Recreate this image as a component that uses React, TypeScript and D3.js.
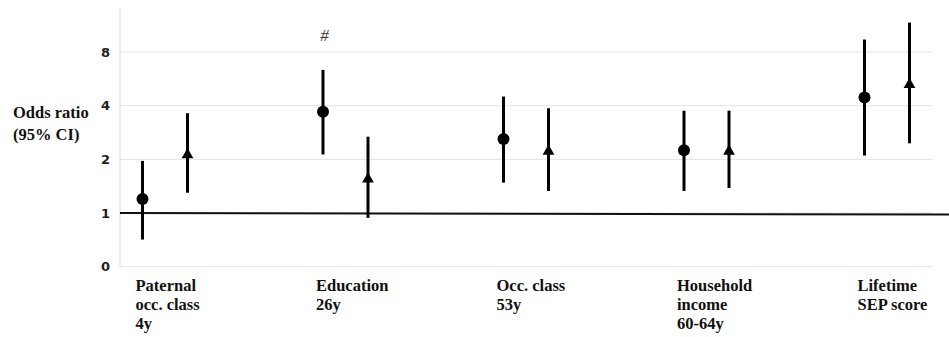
import React from 'react';
import * as d3 from 'd3';

// exposure categories (label lines)
const categories = ['paternal', 'education', 'occ', 'income', 'lifetime'];
const categoryLabels = [
  ['Paternal', 'occ. class', '4y'],
  ['Education', '26y'],
  ['Occ. class', '53y'],
  ['Household', 'income', '60-64y'],
  ['Lifetime', 'SEP score'],
];

// series 1 (circles)
const circleOR = [1.2, 3.7, 2.6, 2.25, 4.45];
const circleLo = [0.71, 2.13, 1.48, 1.33, 2.1];
const circleHi = [1.96, 6.35, 4.5, 3.75, 9.4];

// series 2 (triangles)
const triOR = [2.12, 1.55, 2.22, 2.22, 5.25];
const triLo = [1.3, 0.94, 1.33, 1.38, 2.46];
const triHi = [3.63, 2.68, 3.87, 3.75, 11.7];

const yTicks = [0.5, 1, 2, 4, 8];
const yTickLabels = ['0', '1', '2', '4', '8'];
const significant = ['education'];

const W = 949;
const H = 337;

export default function App() {
  const xScale = d3.scalePoint<string>().domain(categories).range([165, 887]);
  const yScale = d3.scaleLog().base(2).domain([0.5, 8]).range([266.7, 52]);
  const axisLeft = 120;
  const gridRight = 932;
  const offset = 22.5;

  const tri = d3.symbol().type(d3.symbolTriangle).size(60);

  const serif = "'Liberation Serif', 'Times New Roman', serif";

  return (
    <svg width={W} height={H} style={{ position: 'absolute', left: 0, top: 0, background: '#fff' }}>
      {/* gridlines */}
      {yTicks.map(t => (
        <line key={t} x1={axisLeft} x2={gridRight} y1={yScale(t)} y2={yScale(t)} stroke="#e3e3e3" strokeWidth={1} />
      ))}
      <line x1={axisLeft} x2={axisLeft} y1={8} y2={yScale(0.5)} stroke="#d9d9d9" strokeWidth={1} />
      {yTicks.map((t, i) => (
        <text
          key={'l' + t}
          x={110}
          y={yScale(t) + 4.5}
          textAnchor="end"
          fontFamily="'DejaVu Sans', Verdana, sans-serif"
          fontWeight="bold"
          fontSize={13}
          fill="#222"
        >
          {yTickLabels[i]}
        </text>
      ))}
      {/* reference line at OR = 1 */}
      <line x1={axisLeft} x2={W} y1={yScale(1)} y2={yScale(1) + 1.5} stroke="#111" strokeWidth={2} />

      {/* y axis title */}
      <text fontFamily={serif} fontWeight="bold" fontSize={16.5} fill="#111">
        <tspan x={13} y={118}>Odds ratio</tspan>
        <tspan x={13} y={140}>(95% CI)</tspan>
      </text>

      {categories.map((c, i) => {
        const cx = (xScale(c) as number) - offset;
        const tx = (xScale(c) as number) + offset;
        return (
          <g key={c}>
            <line x1={cx} x2={cx} y1={yScale(circleLo[i])} y2={yScale(circleHi[i])} stroke="#000" strokeWidth={3} />
            <circle cx={cx} cy={yScale(circleOR[i])} r={6} fill="#000" />
            <line x1={tx} x2={tx} y1={yScale(triLo[i])} y2={yScale(triHi[i])} stroke="#000" strokeWidth={3} />
            <path d={tri() as string} transform={`translate(${tx},${yScale(triOR[i])})`} fill="#000" />
            {significant.includes(c) && (
              <text x={cx + 1.5} y={41} textAnchor="middle" fontFamily={serif} fontStyle="italic" fontSize={17} fill="#333">
                #
              </text>
            )}
            <text fontFamily={serif} fontWeight="bold" fontSize={16.5} fill="#111">
              {categoryLabels[i].map((line, j) => (
                <tspan key={j} x={cx - 7} y={291 + j * 19}>
                  {line}
                </tspan>
              ))}
            </text>
          </g>
        );
      })}
    </svg>
  );
}
